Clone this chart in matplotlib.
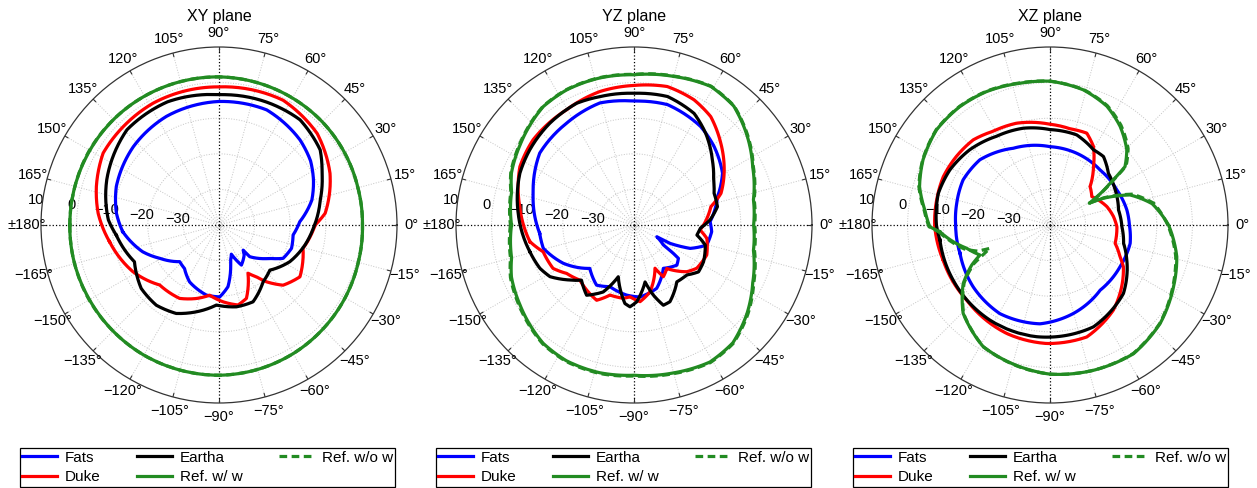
import numpy as np
import matplotlib
matplotlib.use('Agg')
import matplotlib.pyplot as plt

plt.rcParams['font.family'] = ['Liberation Sans', 'DejaVu Sans']

# gain patterns in dB, angles in degrees (path order around the plane)
xy_fats_deg = [-176, -160.6, -150.7, -137, -128.4, -117.3, -100.2, -89.4, -81.7, -72, -67.1, -60.8, -50, -46.2, -45.9,
               -33.3, -27.5, -17.8, -7.7, 2.3, 15, 25.5, 35, 46.4, 67.5, 90, 115.8, 137.6, 159.5, 173.5]
xy_fats_db = [-12.9, -17.3, -20.9, -24.9, -24.4, -22.0, -20.0, -19.8, -22.5, -29.5, -31.1, -27.1, -29.0, -30.2, -27.6,
              -22.9, -19.7, -18.6, -19.0, -17.3, -13.0, -10.6, -8.6, -7.0, -5.0, -5.3, -6.1, -7.4, -9.2, -11.0]
xy_duke_deg = [-171.3, -151.5, -134.7, -118.2, -107.1, -97.6, -87, -76.6, -69.5, -59, -54.1, -50.1, -43.2, -32.6,
               -15.5, 0, 6.3, 19, 25, 43, 62.8, 90, 118.4, 132.2, 148.2, 162.6, 174.5]
xy_duke_db = [-8.9, -12.5, -16.3, -16.6, -18.4, -20.1, -18.4, -16.9, -18.0, -24.2, -22.0, -19.2, -15.3, -13.0,
              -15.5, -13.0, -10.0, -7.0, -5.6, -2.3, -0.6, -1.2, -1.1, -1.4, -1.7, -3.9, -5.9]
xy_eartha_deg = [-174.4, -156.5, -140.8, -128, -115.8, -104.6, -91.9, -78, -66.1, -52.2, -41.6, -27.4, -13.1, -2,
                 13.9, 26.7, 36.6, 52.4, 70, 90, 112.7, 134, 158, 177.4]
xy_eartha_db = [-11.0, -14.1, -11.8, -11.4, -12.4, -14.8, -17.5, -16.5, -16.4, -19.8, -20.9, -17.6, -15.2, -13.5,
                -10.7, -7.6, -4.6, -2.7, -3.0, -3.4, -2.5, -2.8, -6.0, -8.9]
xy_refw_deg = [-180, -165, -150, -135, -120, -105, -90, -75, -60, -45, -30, -15,
               0, 15, 30, 45, 60, 75, 90, 105, 120, 135, 150, 165]
xy_refw_db = [1.9, 2.0, 2.0, 2.1, 2.2, 2.2, 2.2, 2.0, 1.7, 1.3, 0.9, 0.5,
              0.3, 0.4, 0.7, 1.0, 1.2, 1.4, 1.6, 1.7, 1.8, 1.9, 1.9, 1.9]
xy_refwo_deg = [-180, -165, -150, -135, -120, -105, -90, -75, -60, -45, -30, -15,
                0, 15, 30, 45, 60, 75, 90, 105, 120, 135, 150, 165]
xy_refwo_db = [1.9, 2.0, 2.1, 2.1, 2.2, 2.2, 2.2, 2.0, 1.7, 1.3, 0.9, 0.5,
               0.3, 0.4, 0.7, 1.0, 1.2, 1.4, 1.6, 1.7, 1.8, 1.9, 2.0, 1.9]

yz_fats_deg = [-175, -165.6, -151.6, -135.5, -121.9, -111.3, -96, -85.2, -70.3, -55.9, -43.1, -36.9, -35.8, -34.3,
               -27.3, -27, -22.6, -15.4, -4.9, 2.5, 18.8, 30.3, 44.4, 55.9, 74.5, 90, 105.6, 123.5, 142.7, 162.5]
yz_fats_db = [-13.4, -13.7, -17.4, -22.6, -20.1, -21.4, -20.2, -19.7, -21.1, -25.3, -23.5, -24.4, -26.4, -30.0,
              -32.8, -28.6, -22.9, -18.8, -18.1, -18.6, -15.2, -11.2, -8.5, -6.6, -4.9, -5.2, -4.4, -5.7, -6.7, -10.3]
yz_duke_deg = [-170.9, -163.6, -151.8, -144.3, -134.5, -116.4, -108.9, -98.3, -93.2, -85.5, -76.5, -64.1, -60.4, -53,
               -41.5, -34.6, -22.4, -10.4, -4.3, 0.8, 13.4, 20, 29.9, 43.3, 54.7, 64.4, 76.5, 90, 104.3, 120.3,
               139.8, 152.9, 170.9]
yz_duke_db = [-10.4, -13.4, -14.2, -16.7, -18.3, -16.4, -19.2, -19.2, -19.8, -18.4, -20.7, -26.5, -23.3, -24.7,
              -20.2, -18.6, -17.9, -19.2, -21.4, -20.3, -17.8, -14.0, -10.8, -6.5, -2.7, -1.0, 0.0, -0.8, -1.3,
              -2.5, -2.9, -4.0, -7.5]
yz_eartha_deg = [-165.6, -155.3, -148.4, -140, -133.6, -124, -114.7, -106.9, -96.6, -92.8, -88, -79, -74.6, -69.9,
                 -64.9, -53, -43.5, -36, -27.9, -15.7, -9.1, -2.9, 3.8, 12.4, 21.6, 29.6, 39.7, 52, 61.7, 75.4, 90,
                 104.8, 115.2, 129.6, 144.2, 155.6, 174.2]
yz_eartha_db = [-9.8, -10.9, -12.3, -16.0, -18.6, -16.2, -19.3, -24.8, -17.8, -17.0, -18.4, -23.7, -19.6, -16.0,
                -16.2, -20.0, -19.6, -17.6, -17.9, -19.2, -22.1, -21.4, -18.6, -16.0, -15.8, -14.3, -11.4, -7.3, -4.4,
                -2.7, -3.0, -2.7, -2.2, -2.9, -3.9, -4.8, -7.3]
yz_refw_deg = [-180, -165, -157, -145, -127.5, -116.5, -103, -90, -75, -61, -50, -38, -26, -12,
               0, 12, 26, 38, 50, 61, 75, 90, 103, 116.5, 127.5, 145, 157, 165]
yz_refw_db = [-5.6, -4.4, -2.6, -0.9, 1.9, 2.6, 2.6, 2.2, 3.0, 4.0, 3.2, 0.3, -2.9, -5.7,
              -6.4, -5.7, -2.9, 0.4, 3.6, 4.5, 3.2, 2.2, 2.4, 2.4, 1.9, -0.9, -2.6, -4.4]
yz_refwo_deg = [-180, -165, -157, -145, -127.5, -116.5, -103, -90, -75, -61, -50, -38, -26, -12,
                0, 12, 26, 38, 50, 61, 75, 90, 103, 116.5, 127.5, 145, 157, 165]
yz_refwo_db = [-5.3, -4.1, -2.3, -0.6, 2.1, 2.8, 2.8, 2.4, 3.2, 4.2, 3.4, 0.6, -2.6, -5.4,
               -6.1, -5.5, -2.7, 0.6, 3.7, 4.6, 3.3, 2.3, 2.5, 2.5, 2.0, -0.7, -2.4, -4.2]

xz_fats_deg = [-162.5, -141.2, -119.5, -95.8, -75.2, -52.4, -30.8, -12.9, 0, 11, 27.7, 47.7, 69.6, 90, 115.6,
               137.1, 152.6, 166.9, 180]
xz_fats_db = [-13.5, -12.3, -11.4, -12.1, -14.3, -16.9, -17.1, -16.9, -17.7, -18.0, -18.8, -19.1, -18.5, -18.0,
              -16.1, -13.1, -12.5, -13.1, -13.5]
xz_duke_deg = [-161.8, -138, -111.8, -91.6, -71.8, -53.3, -29.6, -24.4, -15.7, -1.5, 7.5, 17.9, 34.2, 43.8, 53.4,
               61, 68.2, 78.1, 90, 108.2, 121.3, 132, 143.8, 155.6, 167.6, 180]
xz_duke_db = [-8.4, -8.5, -7.2, -6.7, -6.9, -10.2, -16.3, -18.4, -21.0, -21.2, -22.0, -23.2, -25.8, -24.4, -19.5,
              -14.8, -12.2, -12.4, -11.7, -9.9, -9.2, -7.8, -7.4, -7.1, -7.4, -7.6]
xz_eartha_deg = [-172.2, -150.4, -122.3, -96.8, -66.9, -43, -24.5, -14, -1.3, 12.4, 28.3, 41.5, 52, 60, 73.5, 90,
                 105.4, 121.1, 136.8, 151.2, 164.2, 180]
xz_eartha_db = [-8.8, -8.7, -8.4, -8.4, -8.9, -11.8, -16.3, -18.7, -19.8, -20.3, -19.2, -18.1, -15.6, -15.6, -13.6,
                -13.2, -11.8, -10.9, -9.1, -7.9, -7.4, -8.1]
xz_refw_deg = [-176.5, -170.2, -164.4, -156.8, -152.9, -146, -134.5, -118.7, -102, -90, -73.4, -57, -41.8, -26.6,
               -14, 0, 11.8, 20.6, 26.6, 29, 34.8, 37.9, 44.4, 54.6, 64.4, 76.1, 90, 102, 115.4, 127.3, 140, 152.8,
               163.6, 173.2, 180.8]
xz_refw_db = [-9.0, -12.4, -15.7, -18.6, -15.3, -10.6, -5.2, -1.0, 0.7, 1.9, 2.6, 3.1, 1.5, -1.2,
              -3.3, -6.7, -10.7, -16.0, -23.2, -27.4, -19.4, -13.3, -9.8, -6.0, -3.0, -0.9, 0.4, 0.7, 1.5, 1.8, 1.6,
              0.1, -1.8, -4.6, -6.2]
xz_refwo_deg = [-176.5, -170.2, -164.4, -160, -158.8, -156, -152.9, -146, -134.5, -118.7, -102, -90, -73.4, -57,
                -41.8, -26.6, -14, 0, 11.8, 20.6, 26.6, 29, 34.8, 37.9, 44.4, 54.6, 64.4, 76.1, 90, 102, 115.4,
                127.3, 140, 152.8, 163.6, 173.2, 180.8]
xz_refwo_db = [-8.7, -12.0, -15.0, -18.5, -21.9, -19.5, -15.8, -10.9, -5.3, -1.0, 0.8, 1.9, 2.6, 3.0,
               1.4, -1.4, -3.6, -6.9, -10.2, -15.4, -22.8, -27.2, -19.1, -12.9, -9.3, -5.6, -2.8, -0.8, 0.4, 0.8,
               1.6, 1.9, 1.7, 0.2, -1.6, -4.4, -6.0]

series_names = ['Fats', 'Duke', 'Eartha', 'Ref. w/ w', 'Ref. w/o w']
series_colors = ['#0000ff', '#ff0000', '#000000', '#228b22', '#228b22']
series_styles = ['-', '-', '-', '-', (0, (2.4, 1.4))]
plane_titles = ['XY plane', 'YZ plane', 'XZ plane']
rticks = [-30, -20, -10, 0, 10]

planes = [
    [(xy_fats_deg, xy_fats_db), (xy_duke_deg, xy_duke_db), (xy_eartha_deg, xy_eartha_db),
     (xy_refw_deg, xy_refw_db), (xy_refwo_deg, xy_refwo_db)],
    [(yz_fats_deg, yz_fats_db), (yz_duke_deg, yz_duke_db), (yz_eartha_deg, yz_eartha_db),
     (yz_refw_deg, yz_refw_db), (yz_refwo_deg, yz_refwo_db)],
    [(xz_fats_deg, xz_fats_db), (xz_duke_deg, xz_duke_db), (xz_eartha_deg, xz_eartha_db),
     (xz_refw_deg, xz_refw_db), (xz_refwo_deg, xz_refwo_db)],
]

W, H = 1257, 488
fig = plt.figure(figsize=(W / 100, H / 100), dpi=100)
centers = [219, 634, 1050]
legend_x = [207.5, 623.5, 1040.5]
R = 178
RMIN, RMAX = -40, 10

for i, cx in enumerate(centers):
    ax = fig.add_axes([(cx - R) / W, (H - 225 - R) / H, 2 * R / W, 2 * R / H], projection='polar')
    ax.set_ylim(RMIN, RMAX)
    ax.set_xticks([])
    ax.set_yticks([])
    ax.grid(False)
    ax.spines['polar'].set_color('#333333')
    ax.spines['polar'].set_linewidth(0.9)

    # matlab-like polar grid
    th = np.linspace(0, 2 * np.pi, 361)
    for rr in rticks[:-1]:
        ax.plot(th, np.full_like(th, rr), ls=':', color='#c4c4c4', lw=0.7, zorder=1)
    ax.plot(th, np.full_like(th, -39), ls=':', color='#bbbbbb', lw=0.7, zorder=1)
    for a in range(0, 360, 15):
        t = np.deg2rad(a)
        if a % 90 == 0:
            ax.plot([t, t], [RMIN, RMAX], ls=':', color='black', lw=0.9, zorder=1.5)
        else:
            ax.plot([t, t], [RMIN, RMAX], ls=':', color='#c4c4c4', lw=0.7, zorder=1)
        ax.plot([t, t], [RMAX - 1.0, RMAX], color='#333333', lw=0.8, zorder=1.5)

    for a in range(-165, 181, 15):
        if a == 180:
            txt = '\u00b1180\u00b0'
        elif a < 0:
            txt = '\u2212%d\u00b0' % (-a)
        else:
            txt = '%d\u00b0' % a
        ax.text(np.deg2rad(a), 14.0, txt, ha='center', va='center', fontsize=10.5, clip_on=False)

    for rr in rticks:
        lab = ('\u2212%d' % (-rr)) if rr < 0 else '%d' % rr
        ax.text(np.deg2rad(172.3), rr + 1.8, lab, ha='center', va='center', fontsize=10.5, zorder=2)

    handles = []
    for (deg, db), col, ls, name in zip(planes[i], series_colors, series_styles, series_names):
        t = np.unwrap(np.deg2rad(list(deg) + [deg[0]]))
        r = list(db) + [db[0]]
        ln, = ax.plot(t, r, color=col, ls=ls, lw=2.3, label=name, zorder=3)
        # draw segments along the polar coordinates (as matplotlib does for polar bars)
        ln.get_path()._interpolation_steps = 30
        handles.append(ln)

    fig.text(cx / W, 1 - 17 / H, plane_titles[i], ha='center', va='center', fontsize=11.5)

    leg = ax.legend(handles, series_names, ncol=3, loc='center',
                    bbox_to_anchor=(legend_x[i] / W, 1 - 467.5 / H), bbox_transform=fig.transFigure,
                    fontsize=11, frameon=True, fancybox=False, edgecolor='black', framealpha=1,
                    handlelength=2.3, handletextpad=0.5, columnspacing=2.4, labelspacing=0.38,
                    borderpad=0.15, borderaxespad=0)
    leg.get_frame().set_linewidth(0.9)

fig.savefig('out.png', dpi=100)
